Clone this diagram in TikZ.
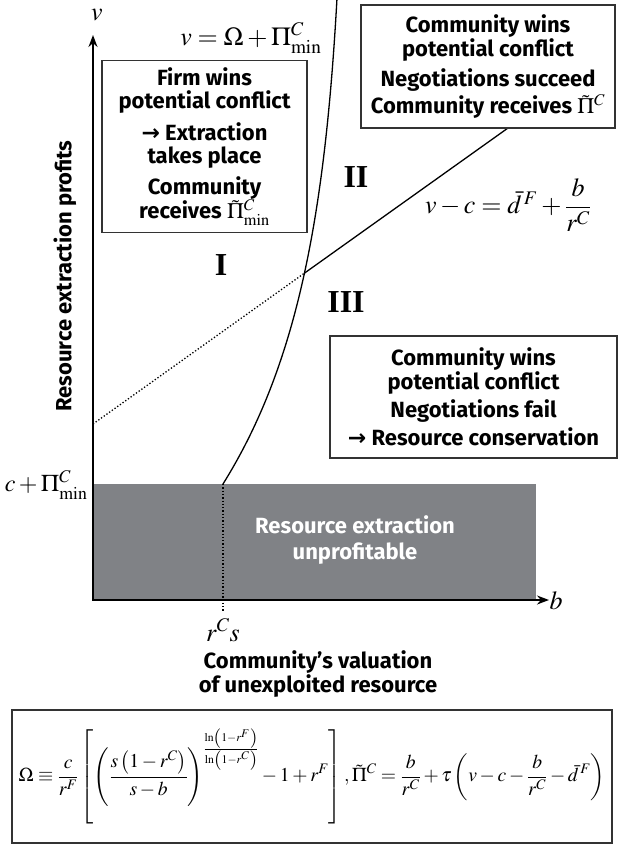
\documentclass[tikz,border=0pt]{standalone}
\usepackage{mathptmx}
\usepackage[no-math]{fontspec}
\setmainfont{Liberation Serif}
\setsansfont{Fira Sans}
\newfontfamily\arrowfont{DejaVu Sans}
\usetikzlibrary{arrows.meta}
\definecolor{shadecol}{RGB}{128,130,134}
\colorlet{boxcol}{black!80}
\newcommand{\ra}{{\arrowfont\char"2192}}
\tikzset{
  axis/.style={line width=1.6pt,-{Stealth[length=12pt,width=9pt]}},
  curv/.style={line width=1.3pt,line cap=round},
  dots/.style={dotted,line width=1.3pt},
  mlab/.style={font=\fontsize{26}{28}\selectfont},
  region/.style={font=\rmfamily\bfseries\fontsize{32}{32}\selectfont},
  sflab/.style={font=\sffamily\bfseries\fontsize{22}{23.5}\selectfont},
  txtbox/.style={draw=boxcol,line width=1.5pt,fill=white,align=center,
    font=\sffamily\bfseries\fontsize{22}{23.5}\selectfont},
}

\begin{document}
\begin{tikzpicture}[x=1pt,y=-1pt]
  \useasboundingbox (0,0) rectangle (619,847);
  % points of the diagram
  \coordinate (O) at (93,600);
  \coordinate (ytop) at (93,35);
  \coordinate (xend) at (549,600);
  \coordinate (cpi) at (93,484);
  \coordinate (shadeend) at (536,600);
  \coordinate (rcs) at (223,484);
  \coordinate (rcsdown) at (223,611);
  \coordinate (lstart) at (93,424);
  \coordinate (X) at (304.5,273.1);
  \coordinate (lend) at (508,128);
  % unprofitable area
  \fill[shadecol] (cpi) rectangle (shadeend);
  \node[sflab,white,align=center] (unprof) at (355,540)
    {Resource extraction\\[2pt]unprofitable};
  \draw[dots] (rcs) -- (rcsdown);
  % axes
  \draw[axis,{Stealth[length=12pt,width=9pt]}-{Stealth[length=12pt,width=9pt]}]
    (ytop) -- (O) -- (xend);
  % boundaries
  \draw[curv] plot[domain=0:488,samples=90]
    ({223+125*(1-exp(-\x/200))},{484-\x});
  \draw[dots] (lstart) -- (X);
  \draw[curv] (X) -- (lend);
  % labels
  \node[mlab] (vlab) at (97,15) {$v$};
  \node[mlab,anchor=east] (omlab) at (325,38) {$v=\Omega+\Pi^{C}_{\min}$};
  \node[mlab] (dlab) at (508,205)
    {$v-c=\bar{d}^{\,F}+\displaystyle\frac{b}{r^{C}}$};
  \node[mlab,anchor=east,font=\fontsize{24}{26}\selectfont] (cpilab) at (91,485)
    {$c+\Pi^{C}_{\min}$};
  \node[mlab] (rcslab) at (223,630) {$r^{C}s$};
  \node[mlab,anchor=west] (blab) at (546,601) {$b$};
  \node[sflab,rotate=90] (ylab) at (65,276) {Resource extraction profits};
  \node[sflab,align=center] (xlab) at (318,674)
    {Community’s valuation\\[1pt]of unexploited resource};
  % regions
  \node[region] (r1) at (221,265) {I};
  \node[region] (r2) at (356,177) {II};
  \node[region] (r3) at (346,302) {III};
  % text boxes
  \node[txtbox,minimum width=205pt,minimum height=172pt] (firm) at (204.5,146.5)
    {Firm wins\\potential conflict\\[8pt]\ra{} Extraction\\takes place\\[7pt]
     Community\\receives $\tilde{\Pi}^{C}_{\min}$};
  \node[txtbox,minimum width=254pt,minimum height=123pt] (succeed) at (488,66.5)
    {Community wins\\[1pt]potential conflict\\[6pt]Negotiations succeed\\[3pt]
     Community receives $\tilde{\Pi}^{C}$};
  \node[txtbox,minimum width=287pt,minimum height=122pt] (fail) at (473.5,397)
    {Community wins\\[1pt]potential conflict\\[4pt]Negotiations fail\\[5pt]
     \ra{} Resource conservation};
  % definitions
  \node[draw=boxcol,line width=1.5pt,minimum width=600pt,minimum height=133pt,
    font=\fontsize{19.6}{23}\selectfont] (defs) at (312,776.5)
    {$\displaystyle\Omega\equiv\frac{c}{r^{F}}\left[\left(\frac{s\left(1-r^{C}\right)}{s-b}\right)^{\frac{\ln\left(1-r^{F}\right)}{\ln\left(1-r^{C}\right)}}-1+r^{F}\right],
      \tilde{\Pi}^{C}=\frac{b}{r^{C}}+\tau\left(v-c-\frac{b}{r^{C}}-\bar{d}^{\,F}\right)$};
\end{tikzpicture}
\end{document}
